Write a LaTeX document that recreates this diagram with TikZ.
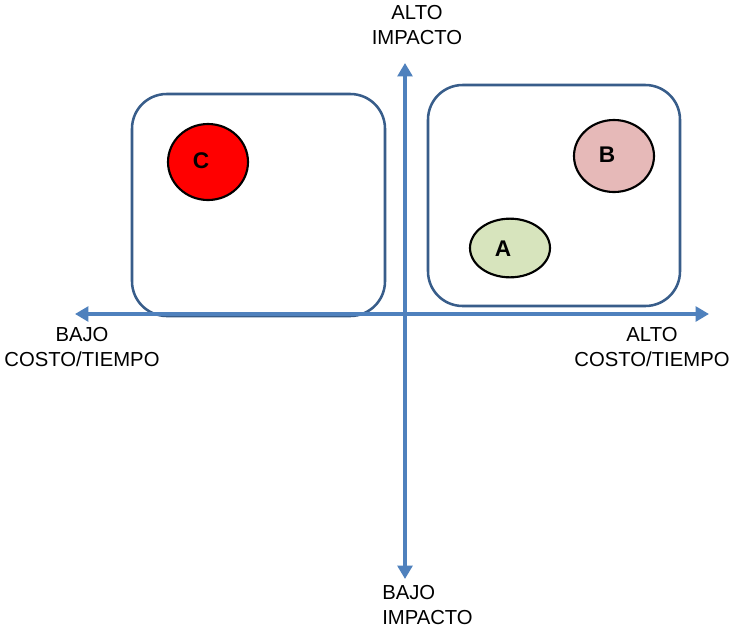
\documentclass[tikz,border=0pt]{standalone}
\usepackage{fontspec}
\setmainfont{Liberation Sans}
\usetikzlibrary{arrows.meta,shapes.geometric}
\definecolor{axisblue}{HTML}{4F81BD}
\definecolor{boxblue}{HTML}{385D8A}
\definecolor{bfill}{HTML}{E6B9B8}
\definecolor{afill}{HTML}{D7E4BD}
\begin{document}
\begin{tikzpicture}[x=0.75pt,y=-0.75pt,
  axis/.style={draw=axisblue,line width=3pt,-{Triangle[length=10pt,width=11pt]}},
  zone/.style={draw=boxblue,line width=1.9pt,rounded corners=26pt},
  item/.style={ellipse,draw=black,line width=1.6pt,inner sep=0pt},
  letter/.style={font=\fontsize{17}{19}\selectfont\bfseries,inner sep=0pt},
  lbl/.style={font=\fontsize{15.2}{18.5}\selectfont,align=center,inner sep=0pt}]
\useasboundingbox (0,0) rectangle (732,629);
\fill[white] (0,0) rectangle (732,629);
% quadrant frames
\draw[zone] (132,94) rectangle (385,316);
\draw[zone] (428,85) rectangle (680,306);
% axes
\coordinate (o) at (405,314);
\coordinate (top) at (405,63);
\coordinate (bot) at (405,579);
\coordinate (lft) at (75,314);
\coordinate (rgt) at (709,314);
\draw[axis] (o) -- (top);
\draw[axis] (o) -- (bot);
\draw[axis] (o) -- (lft);
\draw[axis] (o) -- (rgt);
% items
\node[item,fill=red,minimum width=60pt,minimum height=57pt] (C) at (208,162) {};
\node[item,fill=bfill,minimum width=60pt,minimum height=54pt] (B) at (614,156) {};
\node[item,fill=afill,minimum width=60pt,minimum height=44pt] (A) at (510,248) {};
\node[letter] (Ct) at (201,161) {C};
\node[letter] (Bt) at (607,155) {B};
\node[letter] (At) at (503,249) {A};
% axis labels
\node[lbl] (ltop) at (417,25) {ALTO\\IMPACTO};
\node[lbl] (lleft) at (82,347) {BAJO\\COSTO/TIEMPO};
\node[lbl] (lright) at (652,347) {ALTO\\COSTO/TIEMPO};
\node[lbl,align=left,anchor=west] (lbot) at (382,605) {BAJO\\IMPACTO};
\end{tikzpicture}
\end{document}
